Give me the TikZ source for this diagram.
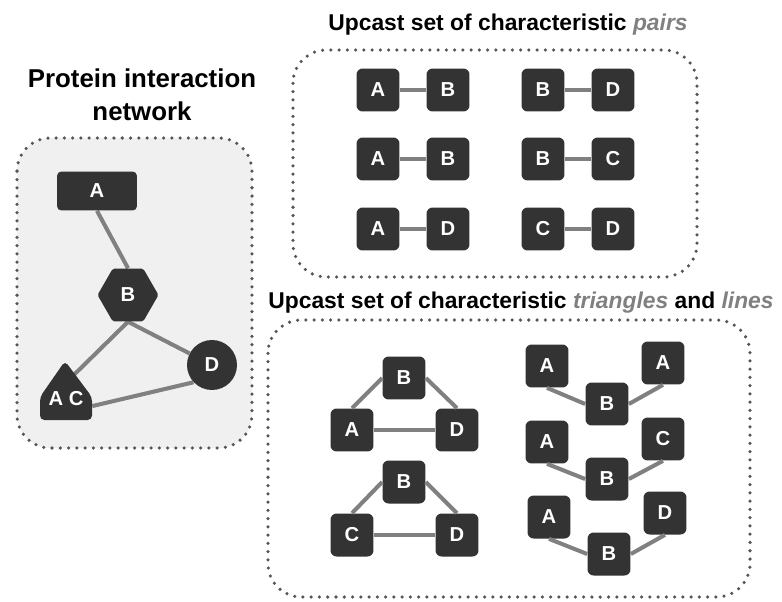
\documentclass[tikz,border=0pt]{standalone}
\usepackage{fontspec}
\setmainfont{Liberation Sans}
\usetikzlibrary{graphs}
\usetikzlibrary{shapes.geometric}
\usetikzlibrary{backgrounds}
\definecolor{boxgray}{HTML}{F0F0F0}
\definecolor{protgray}{HTML}{333333}
\definecolor{linkgray}{HTML}{808080}
\definecolor{dotgray}{HTML}{555555}

\begin{document}
\begin{tikzpicture} [x=0.02cm, y=-0.02cm,
        prot/.style={fill=protgray, text=white, font=\bfseries\fontsize{11.5}{12}\selectfont, rounded corners=3.5pt, inner sep=0pt},
        sq/.style={prot, minimum size=0.86cm},
        link/.style={draw=linkgray, line width=2.3pt},
        dotbox/.style={draw=dotgray, line width=2pt, dash pattern=on 0pt off 4.7pt, line cap=round, rounded corners=19pt},
        heading/.style={font=\bfseries\fontsize{13}{15}\selectfont, align=center}]
            \useasboundingbox (0,0) rectangle (782,602);

            \begin{pgfonlayer}{background}
                \draw[dotbox, fill=boxgray] (17,138) rectangle (252,448);
                \draw[dotbox] (293,50) rectangle (697,277);
                \draw[dotbox] (268,320) rectangle (750,597);
            \end{pgfonlayer}

            \node[heading, font=\bfseries\fontsize{14.7}{19}\selectfont] (nettitle) at (142,95) {Protein interaction\\network};
            \node[heading] (pairtitle) at (508,25) {Upcast set of characteristic \textcolor{linkgray}{\itshape pairs}};
            \node[heading] (tritle) at (521,303) {Upcast set of characteristic \textcolor{linkgray}{\itshape triangles} and \textcolor{linkgray}{\itshape lines}};

            \node[prot, minimum width=1.6cm, minimum height=0.78cm, rounded corners=2.5pt] (a) at (97,191) {A};
            \node[prot, regular polygon, regular polygon sides=6, minimum size=1.22cm, rounded corners=1pt] (b) at (128,295) {B};
            \node[prot, circle, minimum size=1cm] (d) at (212,365) {D};
            \fill[protgray, rounded corners=2.5pt] (40,420) -- (40,397) -- (65,361) -- (92,397) -- (92,420) -- cycle;
            \node[prot, fill=none, minimum width=1.04cm, minimum height=0.64cm] (c) at (66,399) {A C};

            \begin{pgfonlayer}{background}
                \draw[link] (a.south) -- (b.north);
                \draw[link] (b.south) -- (c.north);
                \draw[link] (b.south) -- (d);
                \draw[link] (c.-15) -- (d.223);
            \end{pgfonlayer}

            \node[sq] (p1a) at (378,90)  {A};
            \node[sq] (p1b) at (448,90)  {B};
            \node[sq] (p2b) at (543,90)  {B};
            \node[sq] (p2d) at (613,90)  {D};
            \node[sq] (p3a) at (378,159) {A};
            \node[sq] (p3b) at (448,159) {B};
            \node[sq] (p4b) at (543,159) {B};
            \node[sq] (p4c) at (613,159) {C};
            \node[sq] (p5a) at (378,229) {A};
            \node[sq] (p5d) at (448,229) {D};
            \node[sq] (p6c) at (543,229) {C};
            \node[sq] (p6d) at (613,229) {D};

            \graph[edges={draw=linkgray, line width=2.3pt}] {
                (p1a) -- (p1b), (p2b) -- (p2d), (p3a) -- (p3b), (p4b) -- (p4c), (p5a) -- (p5d), (p6c) -- (p6d)
            };

            \node[sq] (t1b) at (404,378) {B};
            \node[sq] (t1a) at (352,430) {A};
            \node[sq] (t1d) at (457,430) {D};
            \node[sq] (t2b) at (404,482) {B};
            \node[sq] (t2c) at (352,535) {C};
            \node[sq] (t2d) at (457,535) {D};

            \draw[link] (t1a.north) -- (t1b.west);
            \draw[link] (t1b.east) -- (t1d.north);
            \draw[link] (t1a) -- (t1d);
            \draw[link] (t2c.north) -- (t2b.west);
            \draw[link] (t2b.east) -- (t2d.north);
            \draw[link] (t2c) -- (t2d);

            \node[sq] (l1a)  at (547,366) {A};
            \node[sq] (l1b)  at (607,404) {B};
            \node[sq] (l1a2) at (663,363) {A};
            \node[sq] (l2a)  at (547,442) {A};
            \node[sq] (l2b)  at (607,479) {B};
            \node[sq] (l2c)  at (663,439) {C};
            \node[sq] (l3a)  at (549,517) {A};
            \node[sq] (l3b)  at (609,554) {B};
            \node[sq] (l3d)  at (665,513) {D};

            \draw[link] (l1a.south) -- (l1b.west);
            \draw[link] (l1b.east) -- (l1a2.south);
            \draw[link] (l2a.south) -- (l2b.west);
            \draw[link] (l2b.east) -- (l2c.south);
            \draw[link] (l3a.south) -- (l3b.west);
            \draw[link] (l3b.east) -- (l3d.south);
        \end{tikzpicture}
\end{document}
